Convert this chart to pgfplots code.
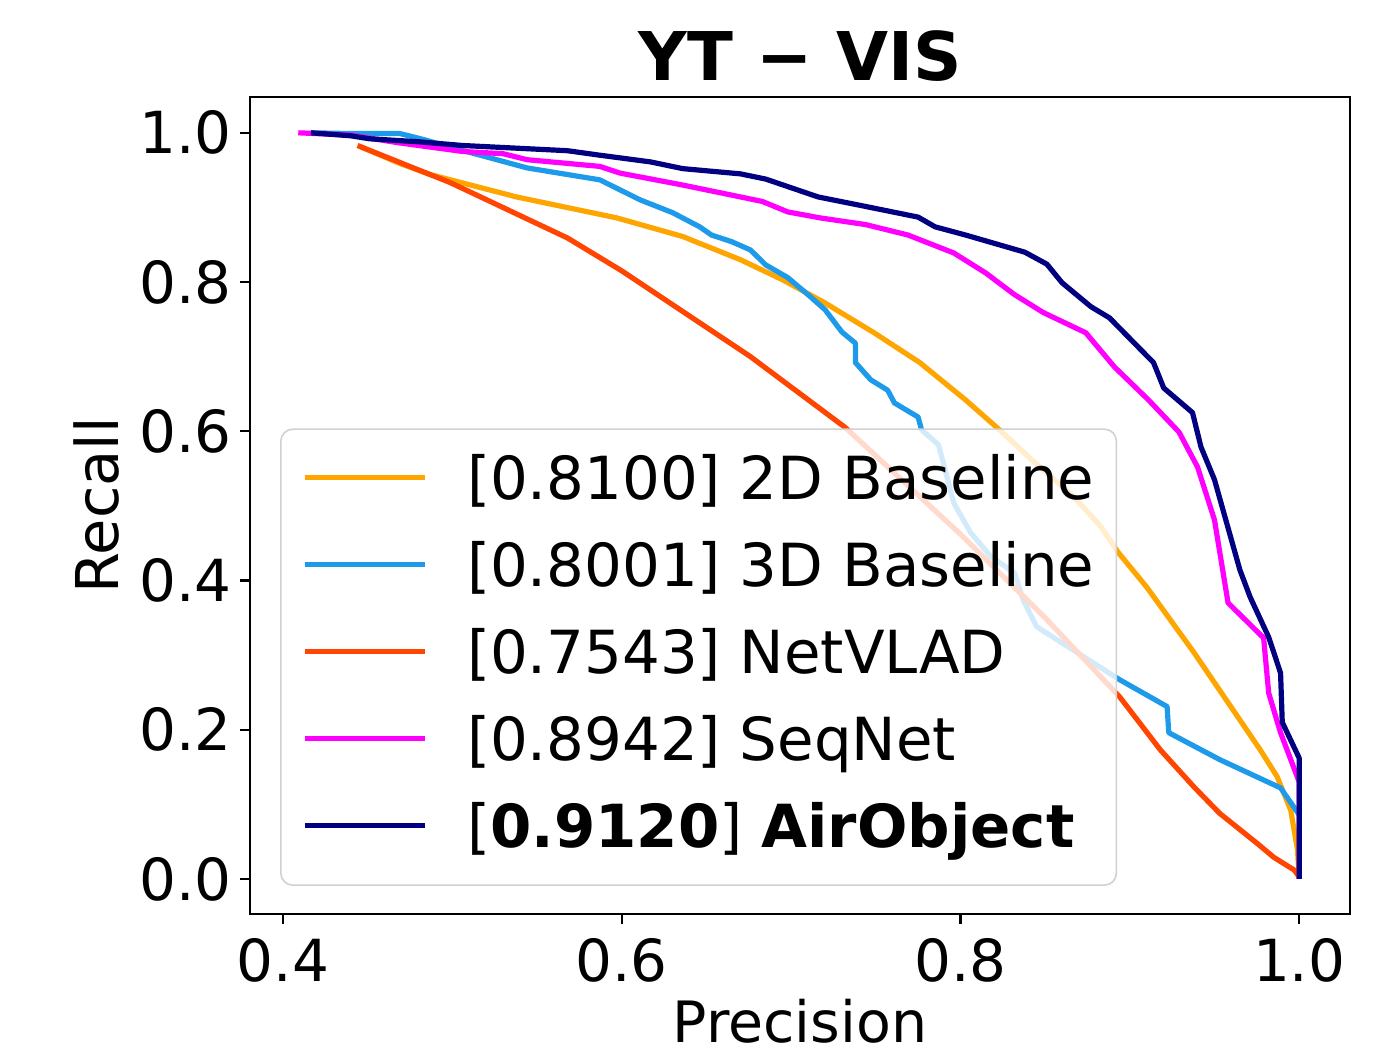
\documentclass[border=0pt]{standalone}
\usepackage{fontspec}
\setmainfont{DejaVu Sans}
\usepackage{pgfplots}
\pgfplotsset{compat=1.18}
\definecolor{c2d}{HTML}{FFA500}
\definecolor{c3d}{HTML}{1E9AEA}
\definecolor{cnv}{HTML}{FF4500}
\definecolor{csq}{HTML}{FF00FF}
\definecolor{cao}{HTML}{000080}
\begin{document}
\begin{tikzpicture}
\begin{axis}[
 at={(62.5pt,36.75pt)}, anchor=south west,
 scale only axis, width=275pt, height=204.25pt,
 xmin=0.3805, xmax=1.030, ymin=-0.047, ymax=1.048,
 xtick={0.4,0.6,0.8,1.0}, ytick={0,0.2,0.4,0.6,0.8,1.0},
 tick pos=left, tick align=outside, major tick length=2.5pt,
 tick style={black, line width=0.6pt},
 axis line style={line width=0.6pt},
 /pgf/number format/.cd, fixed, fixed zerofill, precision=1, assume math mode=true, /pgfplots/.cd,
 ticklabel style={font=\fontsize{14.5}{17}\selectfont},
 yticklabel style={xshift=1.5pt},
 title={\textbf{YT − VIS}},
 title style={at={(axis description cs:0.5,1.0208)}, anchor=base, yshift=-6pt, font=\fontsize{16.8}{19}\selectfont},
 xlabel={Precision},
 xlabel style={at={(axis description cs:0.5,-0.1567)}, anchor=base, font=\fontsize{14.25}{17}\selectfont},
 ylabel={Recall},
 ylabel style={at={(axis description cs:-0.12,0.5)}, anchor=base, font=\fontsize{14.75}{17}\selectfont},
 legend style={at={(0.0273,0.0343)}, anchor=south west, draw=black!18, rounded corners=3pt,
   fill=white, fill opacity=0.8, draw opacity=1, text opacity=1,
   font=\fontsize{14.85}{17}\selectfont,
   inner xsep=5.5pt, inner ysep=4pt, row sep=2.75pt, column sep=9.75pt,
   cells={anchor=base west},
   nodes={inner sep=0pt, text height=13.5pt, text depth=5.5pt}},
 legend image code/.code={\draw[#1, line width=1.3pt] (0pt,5.5pt) -- (30pt,5.5pt);},
 every axis plot/.append style={line width=1.3pt, line join=round},
]
\addplot[c2d, no markers] coordinates {
(0.446,0.981)(0.470,0.958)(0.487,0.944)(0.538,0.914)(0.597,0.886)(0.636,0.861)
(0.670,0.830)(0.695,0.803)(0.720,0.772)(0.749,0.732)(0.776,0.692)(0.803,0.642)(0.823,0.602)
(0.842,0.562)(0.867,0.512)(0.883,0.472)(0.893,0.438)(0.910,0.391)(0.938,0.303)(0.965,0.213)
(0.977,0.173)(0.987,0.137)(0.995,0.092)(0.999,0.039)(1.000,0.000)};
\addlegendentry{[0.8100] 2D Baseline}
\addplot[c3d, no markers] coordinates {
(0.417,1.000)(0.440,0.999)(0.469,0.999)(0.483,0.991)(0.505,0.977)(0.544,0.953)(0.587,0.937)
(0.611,0.910)(0.630,0.893)(0.646,0.874)(0.653,0.863)(0.665,0.854)(0.676,0.843)(0.685,0.823)
(0.698,0.806)(0.710,0.783)(0.720,0.763)(0.730,0.733)(0.738,0.718)(0.738,0.692)(0.747,0.669)
(0.757,0.655)(0.761,0.638)(0.775,0.619)(0.777,0.602)(0.787,0.582)(0.791,0.548)(0.796,0.504)
(0.806,0.464)(0.818,0.432)(0.832,0.410)(0.837,0.374)(0.845,0.338)(0.894,0.267)(0.922,0.231)
(0.923,0.196)(0.953,0.160)(0.989,0.122)(1.000,0.086)};
\addlegendentry{[0.8001] 3D Baseline}
\addplot[cnv, no markers] coordinates {
(0.444,0.983)(0.499,0.933)(0.568,0.859)(0.600,0.815)(0.676,0.700)(0.732,0.605)(0.800,0.462)
(0.850,0.350)(0.894,0.244)(0.918,0.173)(0.938,0.123)(0.953,0.088)(0.975,0.048)(0.985,0.029)
(0.997,0.012)(1.000,0.003)};
\addlegendentry{[0.7543] NetVLAD}
\addplot[csq, no markers] coordinates {
(0.409,1.000)(0.440,0.997)(0.467,0.987)(0.506,0.975)(0.530,0.972)(0.544,0.964)(0.587,0.955)
(0.599,0.946)(0.636,0.930)(0.683,0.908)(0.698,0.894)(0.717,0.886)(0.744,0.877)(0.769,0.863)
(0.796,0.839)(0.815,0.812)(0.832,0.783)(0.849,0.759)(0.874,0.732)(0.891,0.686)(0.911,0.642)
(0.929,0.599)(0.940,0.552)(0.950,0.481)(0.958,0.370)(0.979,0.323)(0.982,0.249)(0.989,0.196)
(1.000,0.130)(1.000,0.000)};
\addlegendentry{[0.8942] SeqNet}
\addplot[cao, no markers] coordinates {
(0.4165,1.000)(0.440,0.996)(0.451,0.992)(0.480,0.988)(0.506,0.983)(0.568,0.976)(0.587,0.970)
(0.617,0.961)(0.636,0.952)(0.670,0.945)(0.685,0.938)(0.716,0.914)(0.749,0.899)(0.775,0.887)
(0.785,0.874)(0.803,0.863)(0.838,0.840)(0.851,0.824)(0.860,0.799)(0.877,0.767)(0.888,0.752)
(0.914,0.692)(0.920,0.658)(0.937,0.625)(0.942,0.579)(0.950,0.535)(0.965,0.414)(0.971,0.378)
(0.982,0.324)(0.989,0.276)(0.990,0.210)(1.000,0.162)(1.000,0.000)};
\addlegendentry{[\textbf{0.9120}] \textbf{AirObject}}
\end{axis}
\pgfresetboundingbox
\path[use as bounding box] (0pt,0pt) rectangle (345.5pt,265.25pt);
\end{tikzpicture}
\end{document}
